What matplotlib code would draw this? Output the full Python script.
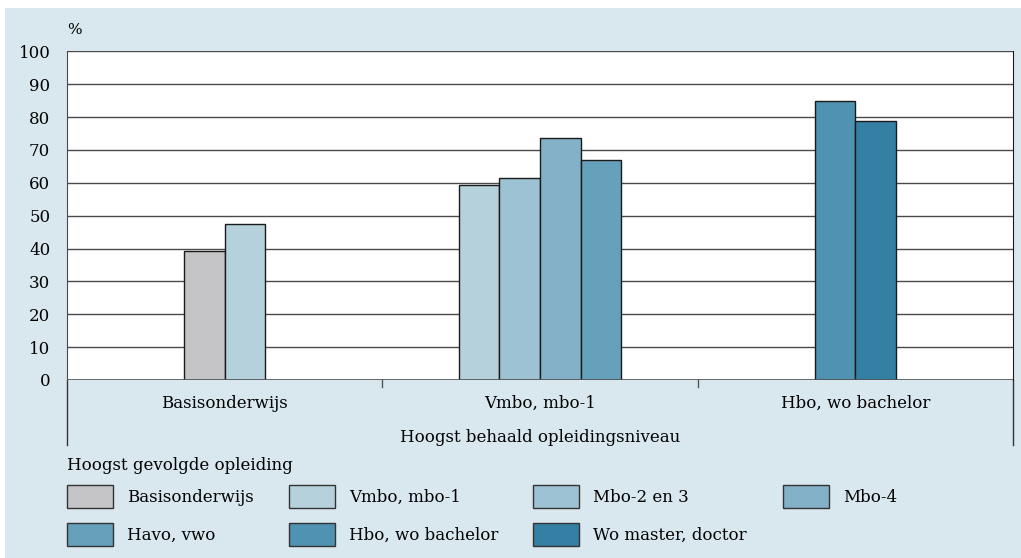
import numpy as np
import matplotlib.pyplot as plt
from matplotlib.patches import Rectangle

plt.rcParams['font.family'] = ['DejaVu Serif']
plt.rcParams['font.size'] = 12

groups = ['Basisonderwijs', 'Vmbo, mbo-1', 'Hbo, wo bachelor']
series = ['Basisonderwijs', 'Vmbo, mbo-1', 'Mbo-2 en 3', 'Mbo-4',
          'Havo, vwo', 'Hbo, wo bachelor', 'Wo master, doctor']
colors = ['#c5c5c7', '#b4d1dc', '#9cc2d3', '#83b1c7',
          '#66a1bc', '#4f92b1', '#3480a5']

# percentage per group, one entry per series (None = no bar)
basis_vals = [39.1, 47.4, None, None, None, None, None]
vmbo_vals = [None, 59.2, 61.5, 73.5, 66.8, None, None]
hbo_vals = [None, None, None, None, None, 84.9, 78.9]
values = [basis_vals, vmbo_vals, hbo_vals]

bg = '#d9e8ef'
fig = plt.figure(figsize=(10.21, 5.58), dpi=100)
fig.patch.set_facecolor('white')
fig.patches.append(Rectangle((5 / 1021, 0), 1, 1 - 8 / 558,
                             transform=fig.transFigure, facecolor=bg,
                             edgecolor='none', zorder=-10))

ax = fig.add_axes([67 / 1021, 1 - 380 / 558, 946 / 1021, 328.7 / 558])
ax.set_facecolor('white')

bar_w = 0.129
for gi, vals in enumerate(values):
    present = [(si, v) for si, v in enumerate(vals) if v is not None]
    n = len(present)
    for k, (si, v) in enumerate(present):
        x = gi + (k - (n - 1) / 2) * bar_w
        ax.bar(x, v, width=bar_w, color=colors[si], edgecolor='#1a1a1a',
               linewidth=1.0, zorder=3)

ax.set_xlim(-0.5, len(groups) - 0.5)
ax.set_ylim(0, 100)
ax.set_yticks(np.arange(0, 101, 10))
ax.yaxis.grid(True, color='#4a4a4a', linewidth=1.0, zorder=0)
ax.tick_params(axis='y', length=0, pad=12, labelsize=12)
ax.set_xticks([])
for s in ['top', 'bottom']:
    ax.spines[s].set_visible(False)
ax.spines['left'].set_color('#4a4a4a')
ax.spines['right'].set_color('#1a1a1a')

# category axis: baseline, group separators and outer lines
ax.axhline(0, color='#555555', linewidth=1.2, zorder=4)
ax.axhline(100, color='#4a4a4a', linewidth=1.2, zorder=4)
ext = -(445 - 380) / 3.287
for xb in [-0.5, len(groups) - 0.5]:
    ax.plot([xb, xb], [0, ext], color='#333333', linewidth=1.0,
            clip_on=False)
for xb in np.arange(0.5, len(groups) - 0.5):
    ax.plot([xb, xb], [0, -7 / 3.287], color='#555555', linewidth=1.0,
            clip_on=False)
for gi, g in enumerate(groups):
    ax.text(gi, -23 / 3.287, g, ha='center', va='center', fontsize=12,
            clip_on=False)
ax.text((len(groups) - 1) / 2, -58 / 3.287, 'Hoogst behaald opleidingsniveau',
        ha='center', va='center', fontsize=12, clip_on=False)

fig.text(67 / 1021, 1 - 30 / 558, '%', ha='left', va='center', fontsize=11)

# legend
fig.text(67 / 1021, 1 - 465 / 558, 'Hoogst gevolgde opleiding',
         ha='left', va='center', fontsize=12)
col_x = [67, 289, 533, 783]
row_y = [485, 523]
for si, name in enumerate(series):
    r, c = divmod(si, 4)
    x0 = col_x[c]
    y0 = row_y[r]
    fig.patches.append(Rectangle((x0 / 1021, 1 - (y0 + 23) / 558),
                                 46 / 1021, 23 / 558,
                                 transform=fig.transFigure,
                                 facecolor=colors[si], edgecolor='#333333',
                                 linewidth=1.0))
    fig.text((x0 + 60) / 1021, 1 - (y0 + 12) / 558, name,
             ha='left', va='center', fontsize=12)

fig.savefig('out.png', dpi=100)
